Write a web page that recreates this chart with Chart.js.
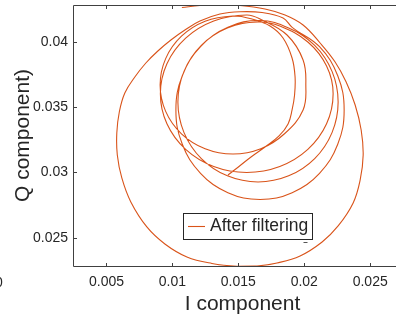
<!DOCTYPE html>
<html><head><meta charset="utf-8">
<script src="https://cdn.jsdelivr.net/npm/chart.js@4/dist/chart.umd.min.js"></script>
<style>
html,body{margin:0;padding:0;background:#fff;overflow:hidden;width:396px;height:323px;}
#wrap{position:relative;width:396px;height:323px;overflow:hidden;background:#fff;}
canvas{position:absolute;left:0;top:0;}
#stray{position:absolute;left:-5px;top:275px;font:14px 'Liberation Sans',Arial,sans-serif;line-height:14px;color:#262626;}
</style></head><body>
<div id="wrap"><canvas id="c" width="414" height="323"></canvas><div id="stray">0</div></div>
<script>
// I / Q trajectory (in drawing order)
const iComponent = [
  // outer loop
  0.010719,0.012086,0.013454,0.015125,0.017023,0.018542,0.019910,0.021201,0.022340,0.023176,
  0.023859,0.024315,0.024467,0.024239,0.023707,0.022568,0.021353,0.019682,0.017935,0.016416,
  0.014897,0.012998,0.011099,0.009428,0.008061,0.006846,0.006162,0.005820,0.005782,0.005972,
  0.006390,0.007150,0.007985,0.008896,0.009884,0.010947,0.012086,0.013606,0.015125,0.016796,0.018391,
  // loop 2
  0.019082,0.021155,0.022538,0.023024,0.022538,0.021155,0.019082,0.016644,
  0.014206,0.012132,0.010750,0.010264,0.010750,0.012132,0.014206,0.016644,
  // loop 3
  0.018816,0.020790,0.022105,0.022568,0.022105,0.020790,0.018816,0.016492,
  0.014168,0.012193,0.010879,0.010415,0.010879,0.012193,0.014168,0.016492,
  // loop 4
  0.018144,0.020270,0.021691,0.022188,0.021691,0.020270,0.018144,0.015637,
  0.013131,0.011004,0.009584,0.009086,0.009584,0.011004,0.013131,0.015637,
  // loop 5
  0.016796,0.018694,0.019910,0.020118,0.019910,0.018500,0.016707,0.014593,
  0.012478,0.010686,0.009488,0.009067,0.009488,0.010686,0.012478,0.014593,
  // last partial loop
  0.016036,0.017403,0.018390,0.019074,0.019302,0.019264,0.019074,0.018770,0.018087,0.017023,
  0.015960,0.015048,0.014213
];
const qComponent = [
  0.042617,0.042770,0.042824,0.042770,0.042502,0.042043,0.041278,0.039901,0.038447,0.036916,
  0.035156,0.033243,0.031329,0.029416,0.027656,0.025895,0.024671,0.023600,0.023064,0.022834,
  0.022811,0.023026,0.023523,0.024518,0.025819,0.027732,0.029569,0.031329,0.033013,0.034620,
  0.036074,0.037299,0.038370,0.039288,0.040130,0.040895,0.041584,0.042120,0.042296,0.042235,0.041814,

  0.041102,0.039617,0.037398,0.034773,0.032148,0.029929,0.028444,0.027924,
  0.028444,0.029929,0.032148,0.034773,0.037398,0.039617,0.041102,0.041622,

  0.041041,0.039717,0.037727,0.035385,0.033043,0.031054,0.029730,0.029263,
  0.029730,0.031054,0.033043,0.035385,0.037727,0.039717,0.041041,0.041508,

  0.041202,0.039977,0.038140,0.036017,0.033713,0.031754,0.030445,0.029990,
  0.030445,0.031754,0.033713,0.036017,0.038320,0.040279,0.041588,0.042043,

  0.041661,0.040513,0.038600,0.036686,0.034773,0.032952,0.031808,0.031406,
  0.031808,0.032952,0.034665,0.036686,0.038707,0.040420,0.041565,0.041967,

  0.041737,0.041202,0.040283,0.038753,0.037299,0.035921,0.034773,0.033702,0.032783,0.031941,
  0.031176,0.030449,0.029799
];
const seriesLabel = 'After filtering';
const xTickValues = [0.005, 0.01, 0.015, 0.02, 0.025];
const xTickLabels = ['0.005', '0.01', '0.015', '0.02', '0.025'];
const yTickValues = [0.025, 0.03, 0.035, 0.04];
const yTickLabels = ['0.025', '0.03', '0.035', '0.04'];
const xLimits = [0.00246, 0.02817];
const yLimits = [0.02283, 0.04281];
const xTitle = 'I component';
const yTitle = 'Q component)';

const FONT = "'Liberation Sans', Arial, Helvetica, sans-serif";
const TEXT = '#262626';
const AXIS = '#404040';
const LINE = '#D95319';

const points = iComponent.map((v, k) => ({x: v, y: qComponent[k]}));

const axisFrame = {
  id: 'axisFrame',
  afterDatasetsDraw(chart) {
    const {ctx, chartArea: a, scales: {x, y}} = chart;
    const L = Math.round(a.left) + 0.5, R = Math.round(a.right) + 0.5;
    const T = Math.round(a.top) + 0.5, B = Math.round(a.bottom) + 0.5;
    const tl = 3.5;
    ctx.save();
    ctx.strokeStyle = AXIS; ctx.lineWidth = 1;
    ctx.beginPath();
    ctx.moveTo(L, B); ctx.lineTo(L, T); ctx.lineTo(R, T); ctx.lineTo(R, B); ctx.closePath();
    x.ticks.forEach(t => {
      const px = Math.round(x.getPixelForValue(t.value)) + 0.5;
      ctx.moveTo(px, B); ctx.lineTo(px, B - tl);
      ctx.moveTo(px, T); ctx.lineTo(px, T + tl);
    });
    y.ticks.forEach(t => {
      const py = Math.round(y.getPixelForValue(t.value)) + 0.5;
      ctx.moveTo(L, py); ctx.lineTo(L + tl, py);
      ctx.moveTo(R, py); ctx.lineTo(R - tl, py);
    });
    ctx.stroke();
    ctx.restore();
  }
};

const boxLegend = {
  id: 'boxLegend',
  afterDraw(chart) {
    const {ctx, chartArea: a} = chart;
    const ds = chart.data.datasets[0];
    const bx = a.left + 110.5, by = a.top + 208.5, bw = 129, bh = 26;
    ctx.save();
    ctx.fillStyle = '#fff';
    ctx.fillRect(bx, by, bw, bh);
    ctx.strokeStyle = TEXT; ctx.lineWidth = 1;
    ctx.strokeRect(bx, by, bw, bh);
    const my = by + bh / 2;
    ctx.strokeStyle = ds.borderColor; ctx.lineWidth = ds.borderWidth;
    ctx.beginPath(); ctx.moveTo(bx + 4.5, my); ctx.lineTo(bx + 21.5, my); ctx.stroke();
    ctx.fillStyle = TEXT;
    ctx.font = '17.5px ' + FONT;
    ctx.textBaseline = 'middle';
    ctx.fillText(ds.label, bx + 26.5, my);
    // small stray dash under the legend's lower right corner
    ctx.strokeStyle = '#555'; ctx.lineWidth = 1;
    ctx.beginPath(); ctx.moveTo(bx + 120, by + 29); ctx.lineTo(bx + 124, by + 29); ctx.stroke();
    ctx.restore();
  }
};

new Chart(document.getElementById('c'), {
  type: 'scatter',
  data: {
    datasets: [{
      label: seriesLabel,
      data: points,
      showLine: true,
      borderColor: LINE,
      backgroundColor: LINE,
      borderWidth: 1.1,
      pointRadius: 0,
      tension: 0.4,
      fill: false
    }]
  },
  options: {
    responsive: false,
    animation: false,
    devicePixelRatio: 1,
    layout: {padding: {top: 5, right: 2, left: 0, bottom: 0}},
    plugins: {legend: {display: false}, tooltip: {enabled: false}},
    scales: {
      x: {
        type: 'linear',
        min: xLimits[0], max: xLimits[1],
        afterBuildTicks: s => { s.ticks = xTickValues.map(v => ({value: v})); },
        afterFit: s => { s.height = 57; s.paddingLeft = 0; s.paddingRight = 0; },
        grid: {display: false, drawTicks: false},
        border: {display: false},
        ticks: {
          autoSkip: false, maxRotation: 0, padding: 8,
          color: TEXT, font: {family: FONT, size: 14},
          callback: (v, i) => xTickLabels[i]
        },
        title: {display: true, text: xTitle, color: TEXT, font: {family: FONT, size: 21}, padding: {top: 0, bottom: 6.4}}
      },
      y: {
        type: 'linear',
        min: yLimits[0], max: yLimits[1],
        afterBuildTicks: s => { s.ticks = yTickValues.map(v => ({value: v})); },
        afterFit: s => { s.width = 73; s.paddingTop = 0; s.paddingBottom = 0; },
        grid: {display: false, drawTicks: false},
        border: {display: false},
        ticks: {
          autoSkip: false, padding: 5,
          color: TEXT, font: {family: FONT, size: 14},
          callback: (v, i) => yTickLabels[i]
        },
        title: {display: true, text: yTitle, color: TEXT, font: {family: FONT, size: 21}, padding: {top: 10.4, bottom: 0}}
      }
    }
  },
  plugins: [axisFrame, boxLegend]
});
</script>
</body></html>
